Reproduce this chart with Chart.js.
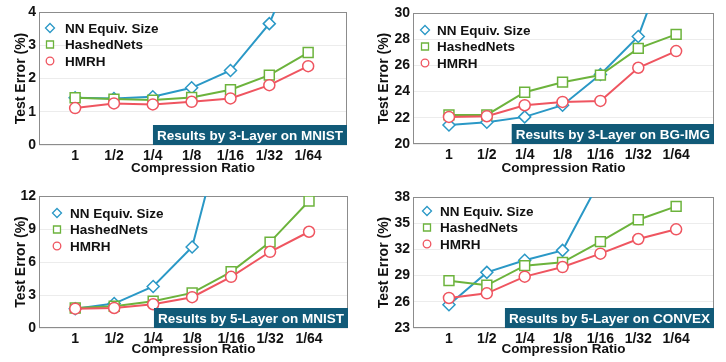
<!DOCTYPE html>
<html>
<head>
<meta charset="utf-8">
<script src="https://cdn.jsdelivr.net/npm/chart.js@4.4.1/dist/chart.umd.min.js"></script>
<style>
  body { margin: 0; background: #fff; }
  #wrap { position: relative; width: 726px; height: 362px; }
  canvas { position: absolute; }
</style>
</head>
<body>
<div id="wrap">
  <canvas id="c1" width="363" height="181" style="left:0;top:0"></canvas>
  <canvas id="c2" width="363" height="181" style="left:363px;top:0"></canvas>
  <canvas id="c3" width="363" height="181" style="left:0;top:181px"></canvas>
  <canvas id="c4" width="363" height="181" style="left:363px;top:181px"></canvas>
</div>
<script>
// compression ratios on the x axis
const ratios = ['1', '1/2', '1/4', '1/8', '1/16', '1/32', '1/64'];
const seriesNames = ['NN Equiv. Size', 'HashedNets', 'HMRH'];

// 3-layer MNIST
const mnist3_nn     = [1.42, 1.40, 1.45, 1.72, 2.24, 3.65, 6.4];
const mnist3_hashed = [1.42, 1.38, 1.35, 1.43, 1.66, 2.10, 2.78];
const mnist3_hmrh   = [1.11, 1.25, 1.22, 1.30, 1.40, 1.80, 2.37];

// 3-layer BG-IMG
const bgimg_nn     = [21.45, 21.66, 22.07, 22.96, 25.31, 28.21, 36];
const bgimg_hashed = [22.22, 22.22, 23.95, 24.72, 25.26, 27.30, 28.37];
const bgimg_hmrh   = [22.07, 22.12, 22.96, 23.21, 23.29, 25.82, 27.09];

// 5-layer MNIST
const mnist5_nn     = [1.75, 2.22, 3.77, 7.36, 21, 40, 60];
const mnist5_hashed = [1.82, 1.98, 2.43, 3.19, 5.11, 7.81, 11.55];
const mnist5_hmrh   = [1.76, 1.82, 2.16, 2.80, 4.65, 6.93, 8.75];

// 5-layer CONVEX
const convex_nn     = [25.67, 29.37, 30.75, 31.89, 40, 50, 60];
const convex_hashed = [28.42, 27.89, 30.14, 30.52, 32.89, 35.40, 36.93];
const convex_hmrh   = [26.44, 26.97, 28.88, 29.98, 31.51, 33.19, 34.30];

const colors = ['#2a98c6', '#6cb33c', '#ef5560'];
const styles = ['rectRot', 'rect', 'circle'];
const radii = [6, 7, 5.5];
const fontFam = '"Liberation Sans", Arial, sans-serif';

function drawMarker(ctx, style, x, y, r) {
    ctx.beginPath();
    if (style === 'rectRot') {
        ctx.moveTo(x, y - r); ctx.lineTo(x + r, y); ctx.lineTo(x, y + r); ctx.lineTo(x - r, y);
        ctx.closePath();
    } else if (style === 'rect') {
        ctx.rect(x - r, y - r, 2 * r, 2 * r);
    } else {
        ctx.arc(x, y, r, 0, Math.PI * 2);
    }
    ctx.fill();
    ctx.stroke();
}

const panelPlugin = {
    id: 'panel',
    beforeDatasetsDraw(chart) {
        const a = chart.chartArea, ctx = chart.ctx;
        ctx.save();
        ctx.strokeStyle = '#8c8c8c';
        ctx.lineWidth = 1;
        ctx.strokeRect(Math.round(a.left) + 0.5, Math.round(a.top) + 0.5,
            Math.round(a.right - a.left) - 1, Math.round(a.bottom - a.top) - 1);
        ctx.restore();
    },
    afterDatasetsDraw(chart) {
        const a = chart.chartArea, ctx = chart.ctx;
        const p = chart.options.plugins.panel;
        ctx.save();
        // caption box
        ctx.font = 'bold 13.5px ' + fontFam;
        const tw = ctx.measureText(p.caption).width;
        const bw = tw + 8, bh = 20;
        ctx.fillStyle = '#115a78';
        ctx.fillRect(a.right - bw, a.bottom - bh, bw, bh);
        ctx.fillStyle = '#fff';
        ctx.textBaseline = 'middle';
        ctx.fillText(p.caption, a.right - bw + 4, a.bottom - bh / 2 + 1);
        // legend, in the original series order
        const legendSets = chart.data.datasets.slice().reverse();
        legendSets.forEach((ds, i) => {
            const x = a.left + p.legX, y = a.top + p.legY + i * 16.5;
            ctx.strokeStyle = ds.borderColor;
            ctx.fillStyle = '#fff';
            ctx.lineWidth = 1.3;
            drawMarker(ctx, ds.pointStyle, x, y, ds.pointStyle === 'rect' ? 3.5 : (ds.pointStyle === 'circle' ? 3.8 : 4.5));
            ctx.fillStyle = '#111';
            ctx.fillText(ds.label, x + p.legText, y + 1);
        });
        ctx.restore();
    }
};

function makePanel(id, seriesList, p) {
    const ctx = document.getElementById(id).getContext('2d');
    return new Chart(ctx, {
        type: 'line',
        data: {
            // reversed so the NN line is drawn on top
            datasets: seriesList.map((vals, i) => ({
                label: seriesNames[i],
                data: vals.map((v, j) => ({x: j + 1, y: v})),
                borderColor: colors[i],
                backgroundColor: '#ffffff',
                borderWidth: 2,
                pointStyle: styles[i],
                pointRadius: radii[i],
                pointBorderWidth: 1.5,
                pointBackgroundColor: '#ffffff',
                pointBorderColor: colors[i],
                tension: 0,
                fill: false
            })).reverse()
        },
        options: {
            responsive: false,
            animation: false,
            layout: {padding: {top: p.top, right: p.right, left: 0, bottom: 0}},
            plugins: {
                legend: {display: false},
                tooltip: {enabled: false},
                panel: p
            },
            scales: {
                x: {
                    type: 'linear',
                    min: p.xmin, max: 8,
                    afterBuildTicks: axis => { axis.ticks = ratios.map((r, i) => ({value: i + 1})); },
                    afterFit: s => { s.height = p.xh; },
                    ticks: {
                        callback: v => ratios[Math.round(v) - 1],
                        font: {family: fontFam, size: 14, weight: 'bold'},
                        color: '#111', padding: 3, maxRotation: 0, autoSkip: false
                    },
                    grid: {display: false, drawTicks: false},
                    border: {display: false},
                    title: {display: true, text: 'Compression Ratio', color: '#111',
                        font: {family: fontFam, size: 13.5, weight: 'bold'}, padding: {top: 0, bottom: 5}}
                },
                y: {
                    min: p.ymin, max: p.ymax,
                    afterFit: s => { s.width = p.yw; },
                    ticks: {
                        stepSize: p.step,
                        font: {family: fontFam, size: 14, weight: 'bold'},
                        color: '#111', padding: 3
                    },
                    grid: {color: '#ececec', drawTicks: false},
                    border: {display: false},
                    title: {display: true, text: 'Test Error (%)', color: '#111',
                        font: {family: fontFam, size: 14, weight: 'bold'}, padding: {top: 13, bottom: 0}}
                }
            }
        },
        plugins: [panelPlugin]
    });
}

const charts = [
    makePanel('c1', [mnist3_nn, mnist3_hashed, mnist3_hmrh],
        {top: 12, right: 16, yw: 39, xh: 36, xmin: 0.07, ymin: 0, ymax: 4, step: 1,
         legX: 11, legY: 16, legText: 15, caption: 'Results by 3-Layer on MNIST'}),
    makePanel('c2', [bgimg_nn, bgimg_hashed, bgimg_hmrh],
        {top: 13, right: 12, yw: 50, xh: 37, xmin: 0.05, ymin: 20, ymax: 30, step: 2,
         legX: 12, legY: 17, legText: 12, caption: 'Results by 3-Layer on BG-IMG'}),
    makePanel('c3', [mnist5_nn, mnist5_hashed, mnist5_hmrh],
        {top: 15, right: 15, yw: 39, xh: 34, xmin: 0.07, ymin: 0, ymax: 12, step: 3,
         legX: 18, legY: 17, legText: 13, caption: 'Results by 5-Layer on MNIST'}),
    makePanel('c4', [convex_nn, convex_hashed, convex_hmrh],
        {top: 16, right: 12, yw: 50, xh: 34, xmin: 0.05, ymin: 23, ymax: 38, step: 3,
         legX: 14, legY: 14, legText: 13, caption: 'Results by 5-Layer on CONVEX'})
];
</script>
</body>
</html>
